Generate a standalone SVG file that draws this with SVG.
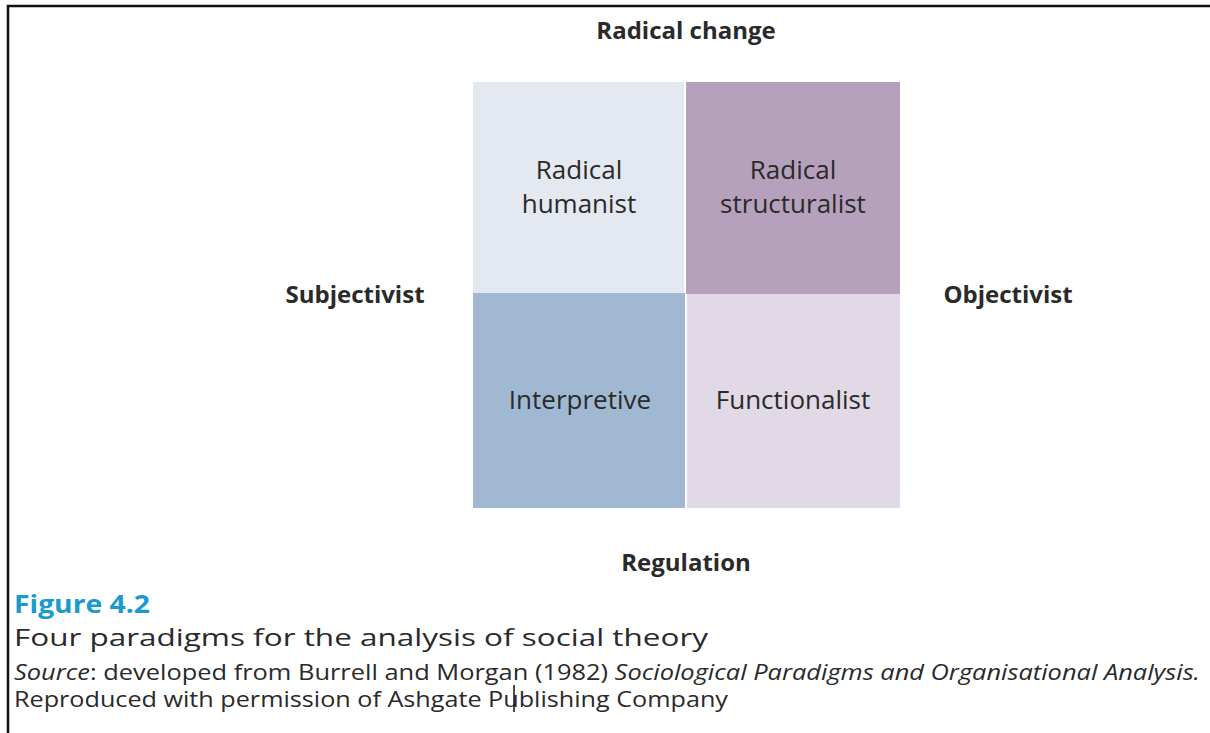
<svg xmlns="http://www.w3.org/2000/svg" width="1210" height="733" viewBox="0 0 1210 733">
<style>
.ax{font-family:"Open Sans","Noto Sans",sans-serif;font-weight:bold;font-size:24px;fill:#2a2a2a;text-anchor:middle}
.q{font-family:"Open Sans","Noto Sans",sans-serif;font-size:26px;fill:#2a2a2a;text-anchor:middle}
.cap{font-family:"Open Sans","Noto Sans",sans-serif;fill:#2a2a2a}
</style>
<rect width="1210" height="733" fill="#ffffff"/>
<g id="frame" stroke="#111" stroke-width="2.5" fill="none">
<path d="M8,733 V6 H1210"/>
</g>
<g id="q-radical-humanist">
<rect x="473" y="82" width="211" height="211" fill="#e4e8f0"/>
<text class="q" x="579" y="179">Radical</text>
<text class="q" x="579" y="213">humanist</text>
</g>
<g id="q-radical-structuralist">
<rect x="686" y="82" width="214" height="212" fill="#b6a1bd"/>
<text class="q" x="793" y="179">Radical</text>
<text class="q" x="793" y="213">structuralist</text>
</g>
<g id="q-interpretive">
<rect x="473" y="293" width="212" height="215" fill="#a1b8d3"/>
<text class="q" x="580" y="409">Interpretive</text>
</g>
<g id="q-functionalist">
<rect x="687" y="294" width="213" height="214" fill="#e1d9e5"/>
<text class="q" x="793" y="409">Functionalist</text>
</g>
<g id="axes">
<text class="ax" x="686" y="39">Radical change</text>
<text class="ax" x="355" y="303">Subjectivist</text>
<text class="ax" x="1008" y="303">Objectivist</text>
<text class="ax" x="686" y="571">Regulation</text>
</g>
<g id="connectors"></g>
<g id="caption">
<text class="cap" x="14" y="613" font-size="25" font-weight="bold" style="fill:#1b9bc9" textLength="136" lengthAdjust="spacingAndGlyphs">Figure 4.2</text>
<text class="cap" x="14" y="646" font-size="24" textLength="694" lengthAdjust="spacingAndGlyphs">Four paradigms for the analysis of social theory</text>
<text class="cap" x="14" y="680" font-size="21" textLength="1186" lengthAdjust="spacingAndGlyphs"><tspan font-style="italic">Source</tspan>: developed from Burrell and Morgan (1982) <tspan font-style="italic">Sociological Paradigms and Organisational Analysis.</tspan></text>
<text class="cap" x="14" y="707" font-size="21" textLength="714" lengthAdjust="spacingAndGlyphs">Reproduced with permission of Ashgate Publishing Company</text>
<line x1="514" y1="685" x2="514" y2="712" stroke="#111" stroke-width="1.5"/>
</g>
</svg>
